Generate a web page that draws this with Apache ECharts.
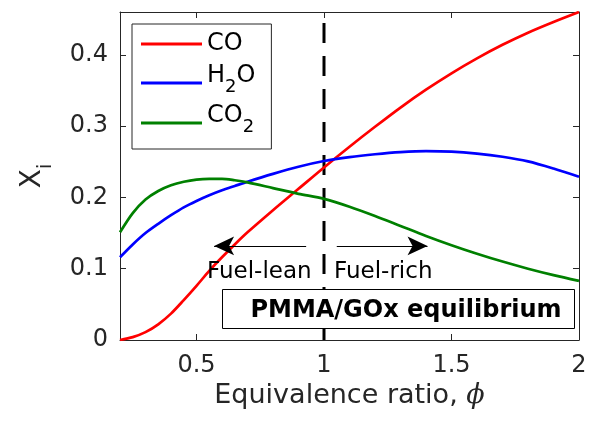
<!DOCTYPE html>
<html>
<head>
<meta charset="utf-8">
<script src="https://cdn.jsdelivr.net/npm/echarts@6/dist/echarts.min.js"></script>
<style>
html,body{margin:0;padding:0;background:#fff;}
#chart{width:591px;height:421px;}
</style>
</head>
<body>
<div id="chart"></div>
<script>
// ---- data ----
const phi = [0.2,0.25,0.3,0.35,0.4,0.45,0.5,0.55,0.6,0.65,0.7,0.8,0.9,1.0,1.1,1.2,1.3,1.4,1.5,1.6,1.7,1.8,1.9,2.0];
const xCO = [0.000,0.004,0.011,0.022,0.037,0.056,0.076,0.097,0.116,0.134,0.151,0.182,0.212,0.242,0.271,0.299,0.326,0.351,0.374,0.395,0.414,0.431,0.446,0.460];
const xH2O = [0.116,0.134,0.150,0.163,0.175,0.186,0.195,0.203,0.210,0.216,0.222,0.233,0.243,0.251,0.2565,0.2605,0.2635,0.2650,0.2643,0.2615,0.2570,0.2505,0.2405,0.229];
const xCO2 = [0.151,0.178,0.197,0.209,0.217,0.222,0.225,0.226,0.226,0.224,0.221,0.213,0.205,0.198,0.187,0.174,0.160,0.146,0.133,0.121,0.110,0.100,0.091,0.083];
const seriesNames = ['CO','H2O','CO2'];
const xTicks = [0.5,1,1.5,2];
const yTicks = [0,0.1,0.2,0.3,0.4];
const stoichPhi = 1;
const arrowY = 0.132;
const leanArrow = [0.93, 0.569];
const richArrow = [1.05, 1.406];

const FONT = 'DejaVu Sans';
const AX = '#262626';
const pair = (ys) => phi.map((x,i)=>[x, ys[i]]);

const chart = echarts.init(document.getElementById('chart'), null, {renderer:'canvas'});

const legendRich = {
  n:{fontSize:24,lineHeight:26,color:'#000',fontFamily:FONT},
  m:{fontSize:24,lineHeight:26,color:'#000',fontFamily:FONT,padding:[0,0,8,0],verticalAlign:'bottom'},
  s:{fontSize:18,lineHeight:18,color:'#000',fontFamily:FONT,verticalAlign:'bottom'}
};

const axisCommon = {
  type:'value',
  splitLine:{show:false},
  axisLine:{show:true,onZero:false,lineStyle:{color:AX,width:1}},
};

const lineSeries = (name, ys, color) => ({
  name:name,type:'line',data:pair(ys),smooth:0.3,symbol:'none',
  color:color,lineStyle:{color:color,width:2.7},z:4
});

const option = {
  animation:false,
  backgroundColor:'#fff',
  grid:{left:120,right:12,top:12,bottom:81,containLabel:false},
  legend:{
    show:true,
    orient:'vertical',
    left:132,top:24,
    data:seriesNames,
    icon:'rect',
    itemWidth:61,itemHeight:3,
    itemGap:8,
    padding:[8,16,13,9],
    borderColor:AX,borderWidth:1,
    backgroundColor:'#fff',
    selectedMode:false,
    formatter:function(name){
      if(name==='CO') return '{n|CO}';
      if(name==='H2O') return '{m|H}{s|2}{m|O}';
      return '{m|CO}{s|2}';
    },
    textStyle:{rich:legendRich,fontFamily:FONT,fontSize:24,color:'#000'}
  },
  xAxis:[
    Object.assign({},axisCommon,{
      min:0.2,max:2,position:'bottom',
      axisTick:{show:true,inside:true,length:6,customValues:xTicks,lineStyle:{color:AX}},
      axisLabel:{show:true,customValues:xTicks,margin:14,fontSize:24,color:AX,fontFamily:FONT},
      name:'Equivalence ratio, {p|ϕ}',
      nameLocation:'middle',nameGap:40,
      nameTextStyle:{fontSize:27,color:AX,fontFamily:FONT,
        rich:{p:{fontSize:27,color:AX,fontFamily:'DejaVu Serif',fontStyle:'italic'}}}
    }),
    Object.assign({},axisCommon,{
      min:0.2,max:2,position:'top',
      axisTick:{show:true,inside:true,length:6,customValues:xTicks,lineStyle:{color:AX}},
      axisLabel:{show:false}
    })
  ],
  yAxis:[
    Object.assign({},axisCommon,{
      min:0,max:0.46,position:'left',
      axisTick:{show:true,inside:true,length:6,customValues:yTicks,lineStyle:{color:AX}},
      axisLabel:{show:true,customValues:yTicks,margin:12,fontSize:24,color:AX,fontFamily:FONT},
      name:'{m|X}{s|i}',
      nameLocation:'middle',nameGap:64,nameRotate:90,
      nameTextStyle:{color:AX,fontFamily:FONT,fontSize:28,
        rich:{
          m:{fontSize:28,lineHeight:30,color:AX,fontFamily:FONT,padding:[0,0,9,0],verticalAlign:'bottom'},
          s:{fontSize:19,lineHeight:19,color:AX,fontFamily:FONT,verticalAlign:'bottom'}
        }}
    }),
    Object.assign({},axisCommon,{
      min:0,max:0.46,position:'right',
      axisTick:{show:true,inside:true,length:6,customValues:yTicks,lineStyle:{color:AX}},
      axisLabel:{show:false}
    })
  ],
  series:[
    {
      name:'divider',type:'line',
      data:[[stoichPhi,0],[stoichPhi,0.46]],
      symbol:'none',silent:true,z:3,
      lineStyle:{color:'#000',width:3,type:[20,13]},
      markLine:{
        silent:true,
        symbol:['none','arrow'],
        symbolSize:[14,20],
        label:{show:false},
        lineStyle:{color:'#000',width:1,type:'solid'},
        emphasis:{disabled:true},
        data:[
          [{coord:[leanArrow[0],arrowY]},{coord:[leanArrow[1],arrowY]}],
          [{coord:[richArrow[0],arrowY]},{coord:[richArrow[1],arrowY]}]
        ]
      }
    },
    lineSeries('CO', xCO, '#ff0000'),
    lineSeries('H2O', xH2O, '#0000ff'),
    lineSeries('CO2', xCO2, '#008000')
  ],
  graphic:[
    {type:'text',z:100,left:207,top:261,style:{text:'Fuel-lean',fontSize:23,fontFamily:FONT,fill:'#000'}},
    {type:'text',z:100,left:334,top:261,style:{text:'Fuel-rich',fontSize:23,fontFamily:FONT,fill:'#000'}},
    {type:'rect',z:100,shape:{x:222.5,y:289.5,width:352,height:39},style:{fill:'#fff',stroke:'#000',lineWidth:1}},
    {type:'text',z:101,x:406,y:311,style:{text:'PMMA/GOx equilibrium',fontSize:24,fontWeight:'bold',fontFamily:FONT,fill:'#000',align:'center',verticalAlign:'middle'}}
  ]
};
chart.setOption(option);
</script>
</body>
</html>
